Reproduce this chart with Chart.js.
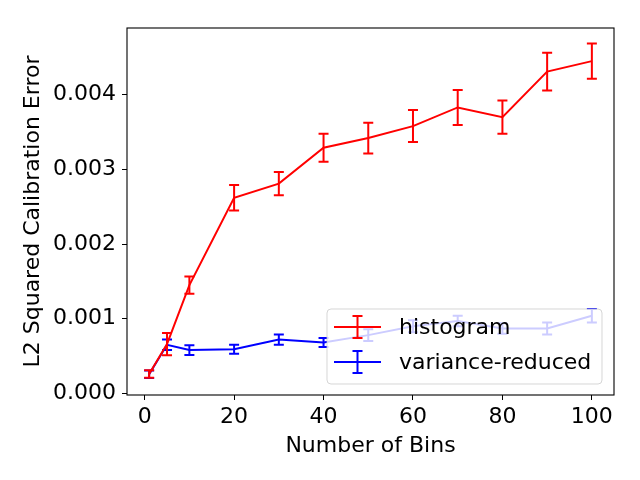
<!DOCTYPE html>
<html lang="en">
<head>
    <meta charset="UTF-8">
    <title>Calibration error vs bins</title>
    <script src="https://cdn.jsdelivr.net/npm/chart.js"></script>
    <style>
        body { margin: 0; background: #fff; }
        canvas { display: block; }
    </style>
</head>
<body>
<canvas id="grafico" width="640" height="480"></canvas>
<script>

// dados
const numBins = [1, 5, 10, 20, 30, 40, 50, 60, 70, 80, 90, 100];
const histValues = [0.000259, 0.00066, 0.00145, 0.00262, 0.00281, 0.00329, 0.00342, 0.00358, 0.00383, 0.00370, 0.00431, 0.00445];
const histErr = [0.00005, 0.00015, 0.000116, 0.00017, 0.000156, 0.000188, 0.000206, 0.000214, 0.000235, 0.000223, 0.000253, 0.000235];
const vrValues = [0.000256, 0.00065, 0.00058, 0.00059, 0.00072, 0.00068, 0.00078, 0.00090, 0.00097, 0.00087, 0.00087, 0.00104];
const vrErr = [0.00005, 0.00007, 0.000065, 0.00006, 0.00007, 0.00006, 0.00008, 0.00008, 0.00007, 0.00007, 0.00008, 0.00009];
const xTicks = [0, 20, 40, 60, 80, 100];
const yTicks = [0, 0.001, 0.002, 0.003, 0.004];

Chart.defaults.font.family = "'DejaVu Sans', sans-serif";
Chart.defaults.font.size = 22;
Chart.defaults.color = '#000';

function pontos(xs, ys) {
    return xs.map(function (x, i) { return { x: x, y: ys[i] }; });
}

// barras de erro desenhadas depois de cada linha
const errorBars = {
    id: 'errorBars',
    afterDatasetDraw(chart, args) {
        const ds = chart.data.datasets[args.index];
        if (!ds.errors) return;
        const ctx = chart.ctx;
        const xs = chart.scales.x, ys = chart.scales.y;
        ctx.save();
        ctx.strokeStyle = ds.borderColor;
        ctx.lineWidth = 2;
        ds.data.forEach(function (p, i) {
            const px = xs.getPixelForValue(p.x);
            const top = ys.getPixelForValue(p.y + ds.errors[i]);
            const bot = ys.getPixelForValue(p.y - ds.errors[i]);
            ctx.beginPath();
            ctx.moveTo(px, top); ctx.lineTo(px, bot);
            ctx.moveTo(px - 5, top); ctx.lineTo(px + 5, top);
            ctx.moveTo(px - 5, bot); ctx.lineTo(px + 5, bot);
            ctx.stroke();
        });
        ctx.restore();
    }
};

// moldura e legenda estilo matplotlib
const moldura = {
    id: 'moldura',
    afterDraw(chart) {
        const ctx = chart.ctx;
        const a = chart.chartArea;
        ctx.save();
        ctx.strokeStyle = '#000';
        ctx.lineWidth = 1.1;
        ctx.strokeRect(a.left, a.top, a.right - a.left, a.bottom - a.top);

        // caixa da legenda
        const bx = 327, by = 309, bw = 275, bh = 75;
        ctx.beginPath();
        ctx.roundRect(bx, by, bw, bh, 4);
        ctx.fillStyle = 'rgba(255,255,255,0.8)';
        ctx.fill();
        ctx.strokeStyle = 'rgba(204,204,204,0.8)';
        ctx.lineWidth = 1;
        ctx.stroke();

        ctx.textAlign = 'left';
        ctx.textBaseline = 'middle';
        ctx.font = "22px 'DejaVu Sans'";
        chart.data.datasets.forEach(function (ds, i) {
            const cy = 327 + i * 35;
            ctx.strokeStyle = ds.borderColor;
            ctx.lineWidth = 2;
            ctx.beginPath();
            ctx.moveTo(334, cy); ctx.lineTo(381, cy);
            ctx.moveTo(357.5, cy - 11); ctx.lineTo(357.5, cy + 11);
            ctx.moveTo(352.5, cy - 11); ctx.lineTo(362.5, cy - 11);
            ctx.moveTo(352.5, cy + 11); ctx.lineTo(362.5, cy + 11);
            ctx.stroke();
            ctx.fillStyle = '#000';
            ctx.fillText(ds.label, 399, cy + 1);
        });
        ctx.restore();
    }
};

const config = {
    type: 'line',
    data: {
        datasets: [
            {
                label: 'histogram',
                data: pontos(numBins, histValues),
                errors: histErr,
                borderColor: '#ff0000',
                borderWidth: 2,
                pointRadius: 0,
                tension: 0
            },
            {
                label: 'variance-reduced',
                data: pontos(numBins, vrValues),
                errors: vrErr,
                borderColor: '#0000ff',
                borderWidth: 2,
                pointRadius: 0,
                tension: 0
            }
        ]
    },
    options: {
        responsive: false,
        maintainAspectRatio: false,
        animation: false,
        devicePixelRatio: 1,
        layout: { padding: { top: 28, right: 26, left: 0, bottom: 0 } },
        plugins: { legend: { display: false }, tooltip: { enabled: false } },
        scales: {
            x: {
                type: 'linear',
                min: -3.95,
                max: 104.95,
                afterBuildTicks: function (s) { s.ticks = xTicks.map(function (v) { return { value: v }; }); },
                afterFit: function (s) { s.height = 85; },
                ticks: { padding: 4, maxRotation: 0, callback: function (v) { return v; } },
                grid: { drawOnChartArea: false, drawTicks: true, tickLength: 5, color: '#000' },
                border: { display: false },
                title: { display: true, text: 'Number of Bins', padding: { top: 0, bottom: 21 } }
            },
            y: {
                type: 'linear',
                min: -0.000022,
                max: 0.004894,
                afterBuildTicks: function (s) { s.ticks = yTicks.map(function (v) { return { value: v }; }); },
                afterFit: function (s) { s.width = 127; },
                ticks: { padding: 6, callback: function (v) { return v.toFixed(3); } },
                grid: { drawOnChartArea: false, drawTicks: true, tickLength: 5, color: '#000' },
                border: { display: false },
                title: { display: true, text: 'L2 Squared Calibration Error', padding: { top: 20, bottom: 0 } }
            }
        }
    },
    plugins: [errorBars, moldura]
};

const grafico = new Chart(document.getElementById('grafico'), config);

</script>
</body>
</html>
